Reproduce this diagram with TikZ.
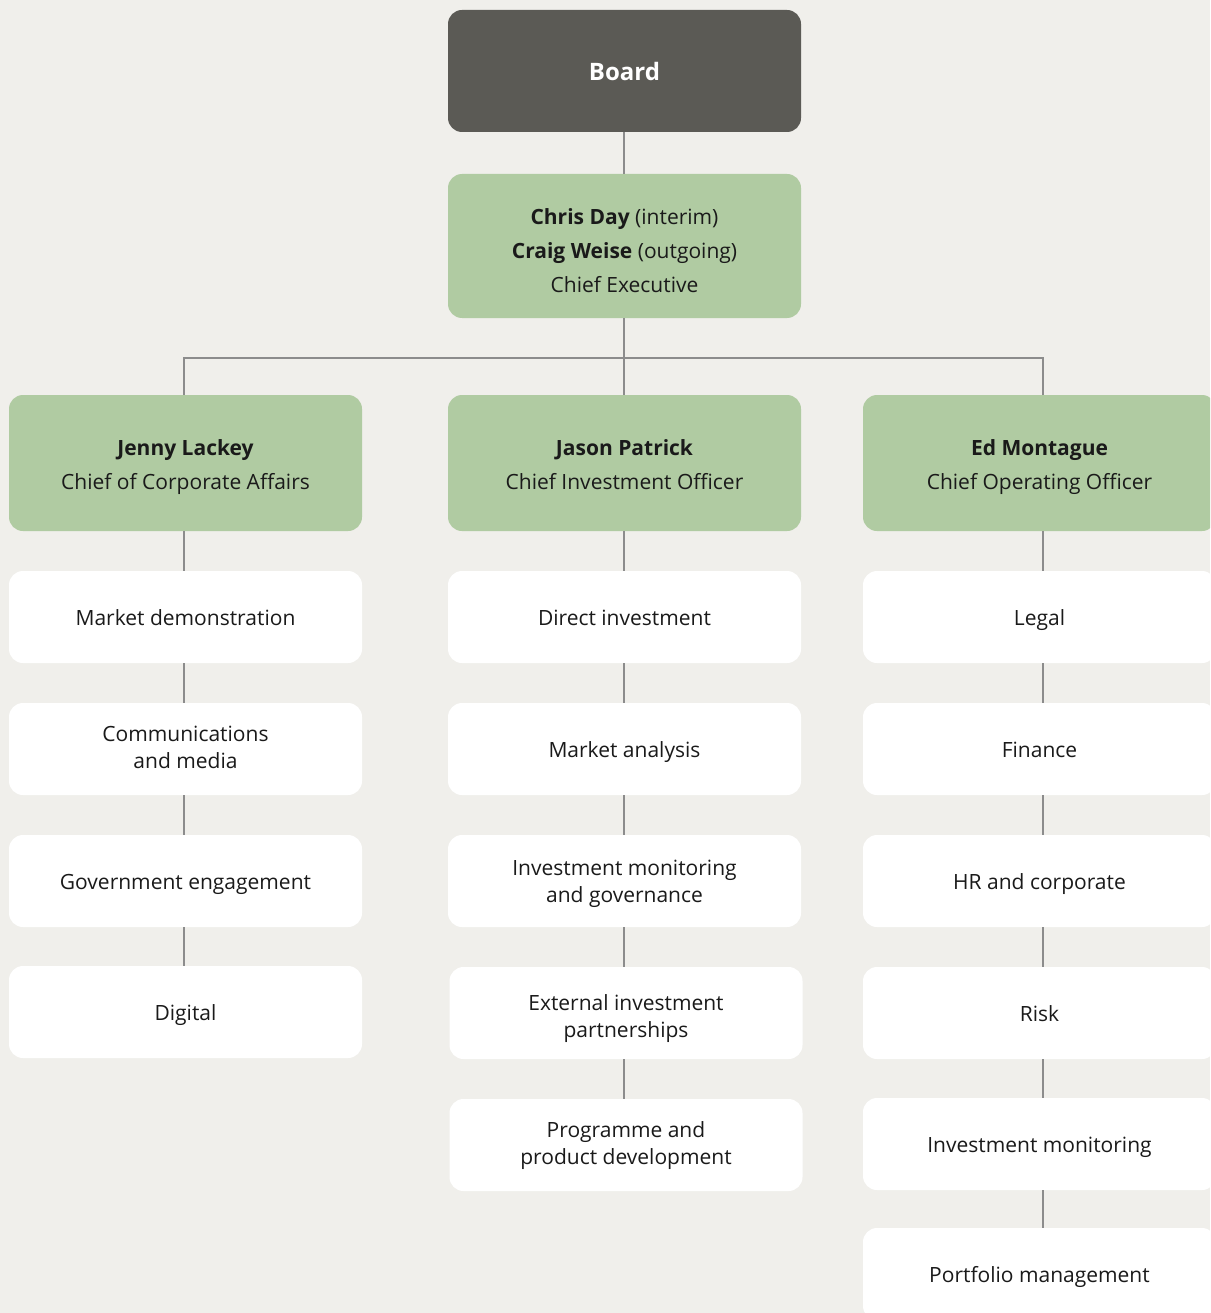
\documentclass[tikz,border=0pt]{standalone}
\usepackage{fontspec}
\setmainfont{Open Sans}
\definecolor{bgc}{HTML}{F0EFEB}
\definecolor{greenc}{HTML}{B0CBA2}
\definecolor{darkc}{HTML}{5B5A55}
\definecolor{linec}{HTML}{8C8C8C}
\definecolor{txtc}{HTML}{1A1A1A}
% first-line struts: \rule[-depth]{0pt}{depth+height}
\newcommand\us{\rule[-8.1pt]{0pt}{33pt}}
\newcommand\usx{\rule[-8.1pt]{0pt}{39pt}}
\newcommand\usn{\rule[-8.1pt]{0pt}{29pt}}
\newcommand\ls{\rule[-10.2pt]{0pt}{40pt}}
\newcommand\cs{\rule[-10.2pt]{0pt}{45pt}}
\newcommand\bs{\rule[-9pt]{0pt}{38pt}}
\tikzset{
  boxbase/.style={rectangle, rounded corners=14pt, minimum width=353pt, align=center, inner sep=0pt, text=txtc},
  unitbox/.style={boxbase, fill=white, minimum height=92pt, font=\fontsize{21}{27}\selectfont},
  leadbox/.style={boxbase, fill=greenc, minimum height=136pt, font=\fontsize{21}{34}\selectfont},
  boardbox/.style={boxbase, fill=darkc, minimum height=122pt, text=white, font=\fontsize{24}{30}\selectfont\bfseries},
  link/.style={draw=linec, line width=1.2pt}
}
\begin{document}
\begin{tikzpicture}[x=1pt,y=-1pt]
\useasboundingbox (0,0) rectangle (1210,1313);
\fill[bgc] (0,0) rectangle (1210,1313);
\clip (0,0) rectangle (1210,1313);
\coordinate (cl) at (184,0);
\coordinate (cm) at (624,0);
\coordinate (cr) at (1043,0);
\coordinate (bus) at (624,358);

\node[boardbox] (board) at (624.5,71) {\bs Board};
\node[leadbox, minimum height=144pt] (ceo) at (624.5,246) {\cs\textbf{Chris Day} (interim)\\\strut\textbf{Craig Weise} (outgoing)\\\strut Chief Executive};
\node[leadbox] (jenny) at (185.5,463) {\ls\textbf{Jenny Lackey}\\\strut Chief of Corporate Affairs};
\node[leadbox] (jason) at (624.5,463) {\ls\textbf{Jason Patrick}\\\strut Chief Investment Officer};
\node[leadbox] (ed) at (1039.5,463) {\ls\textbf{Ed Montague}\\\strut Chief Operating Officer};

\node[unitbox] (l1) at (185.5,617) {\us Market demonstration};
\node[unitbox] (l2) at (185.5,749) {\usn Communications\\\strut and media};
\node[unitbox] (l3) at (185.5,881) {\us Government engagement};
\node[unitbox] (l4) at (185.5,1012) {\us Digital};

\node[unitbox] (m1) at (624.5,617) {\us Direct investment};
\node[unitbox] (m2) at (624.5,749) {\us Market analysis};
\node[unitbox] (m3) at (624.5,881) {\us Investment monitoring\\\strut and governance};
\node[unitbox] (m4) at (626,1013) {\usx External investment\\\strut partnerships};
\node[unitbox] (m5) at (626,1145) {\usn Programme and\\\strut product development};

\node[unitbox] (r1) at (1039.5,617) {\us Legal};
\node[unitbox] (r2) at (1039.5,749) {\us Finance};
\node[unitbox] (r3) at (1039.5,881) {\us HR and corporate};
\node[unitbox] (r4) at (1039.5,1013) {\us Risk};
\node[unitbox] (r5) at (1039.5,1144) {\us Investment monitoring};
\node[unitbox] (r6) at (1039.5,1274) {\us Portfolio management};

\draw[link] (board.south -| cm) -- (ceo.north -| cm);
\draw[link] (ceo.south -| cm) -- (jason.north -| cm);
\draw[link] (jenny.north -| cl) |- (bus) -| (ed.north -| cr);

\draw[link] (jenny.south -| cl) -- (l1.north -| cl);
\draw[link] (l1.south -| cl) -- (l2.north -| cl);
\draw[link] (l2.south -| cl) -- (l3.north -| cl);
\draw[link] (l3.south -| cl) -- (l4.north -| cl);

\draw[link] (jason.south -| cm) -- (m1.north -| cm);
\draw[link] (m1.south -| cm) -- (m2.north -| cm);
\draw[link] (m2.south -| cm) -- (m3.north -| cm);
\draw[link] (m3.south -| cm) -- (m4.north -| cm);
\draw[link] (m4.south -| cm) -- (m5.north -| cm);

\draw[link] (ed.south -| cr) -- (r1.north -| cr);
\draw[link] (r1.south -| cr) -- (r2.north -| cr);
\draw[link] (r2.south -| cr) -- (r3.north -| cr);
\draw[link] (r3.south -| cr) -- (r4.north -| cr);
\draw[link] (r4.south -| cr) -- (r5.north -| cr);
\draw[link] (r5.south -| cr) -- (r6.north -| cr);
\end{tikzpicture}
\end{document}
